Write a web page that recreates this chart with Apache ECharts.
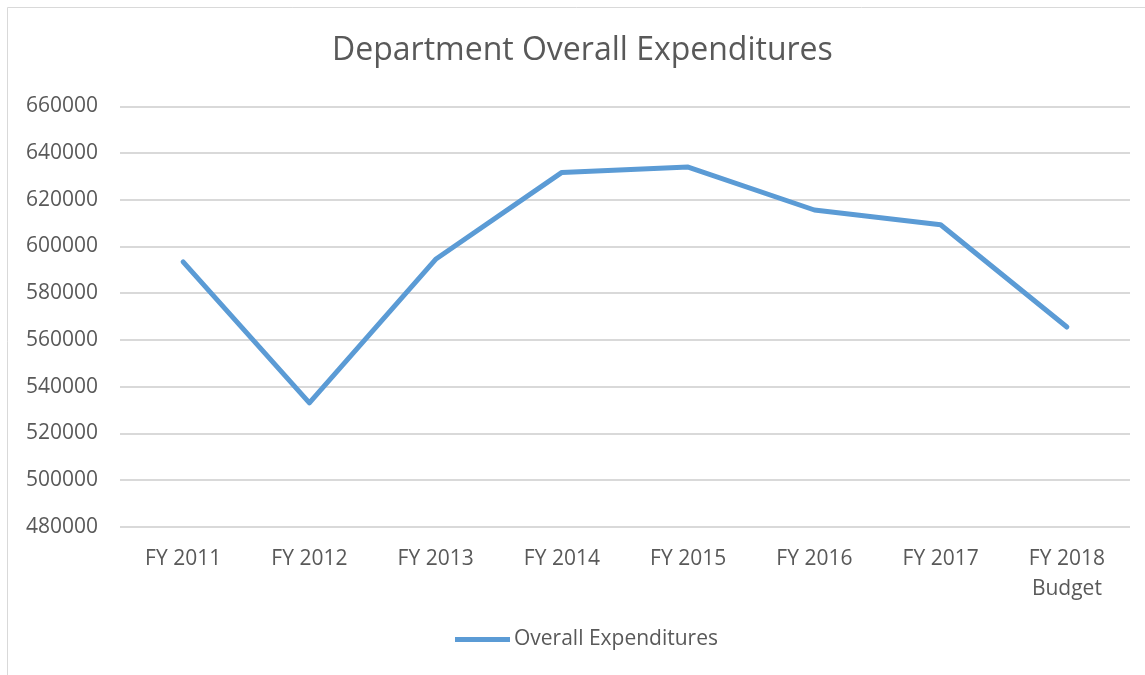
<!DOCTYPE html>
<html>
<head>
<meta charset="utf-8">
<script src="https://cdn.jsdelivr.net/npm/echarts@6/dist/echarts.min.js"></script>
<style>html,body{margin:0;padding:0;background:#fff;}#c{width:1145px;height:675px;}</style>
</head>
<body>
<div id="c"></div>
<script>
const categories = ['FY 2011', 'FY 2012', 'FY 2013', 'FY 2014', 'FY 2015', 'FY 2016', 'FY 2017', 'FY 2018\nBudget'];
const expenditures = [593400, 533000, 594500, 631700, 634000, 615600, 609300, 565500];
const seriesName = 'Overall Expenditures';
const chartTitle = 'Department Overall Expenditures';

const chart = echarts.init(document.getElementById('c'), null, {renderer: 'canvas'});
const textColor = '#595959';
const font = 'Open Sans';
chart.setOption({
  backgroundColor: '#fff',
  animation: false,
  graphic: [{
    type: 'rect', silent: true, z: -1,
    shape: {x: 7.5, y: 7.5, width: 1200, height: 700},
    style: {fill: 'none', stroke: '#D9D9D9', lineWidth: 1}
  }],
  title: {
    text: chartTitle, left: 327, top: 30,
    textStyle: {fontFamily: font, fontWeight: 'normal', fontSize: 32, color: textColor}
  },
  legend: {
    bottom: 20, left: 450,
    itemWidth: 55, itemHeight: 5, itemGap: 10,
    data: [{name: seriesName, icon: 'path://M0,0 L55,0 L55,5 L0,5 Z'}],
    textStyle: {fontFamily: font, fontSize: 21, color: textColor, padding: [0,0,0,-1]}
  },
  grid: {left: 120, right: 15, top: 106.3, bottom: 148.3, containLabel: false},
  xAxis: {
    type: 'category', data: categories, boundaryGap: true,
    axisLine: {show: false}, axisTick: {show: false},
    axisLabel: {fontFamily: font, fontSize: 21, color: textColor, margin: 17, lineHeight: 30}
  },
  yAxis: {
    type: 'value', min: 480000, max: 660000, interval: 20000,
    axisLine: {show: false}, axisTick: {show: false},
    splitLine: {lineStyle: {color: '#D9D9D9', width: 2}},
    axisLabel: {fontFamily: font, fontSize: 21, color: textColor, margin: 22, formatter: v => String(v)}
  },
  series: [{
    name: seriesName, type: 'line', data: expenditures,
    symbol: 'none', lineStyle: {color: '#5B9BD5', width: 5, cap: 'round', join: 'round'},
    itemStyle: {color: '#5B9BD5'}
  }]
});
</script>
</body>
</html>
